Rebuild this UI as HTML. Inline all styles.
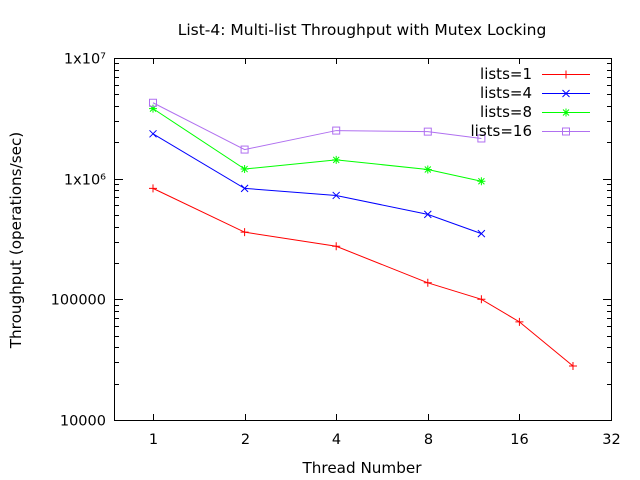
<!DOCTYPE html>
<html><head><meta charset="utf-8"><style>
body{margin:0;background:#fff;}
svg{display:block;font-family:"DejaVu Sans","Liberation Sans",sans-serif;}
</style></head><body>
<svg id="chart" width="640" height="480" viewBox="0 0 640 480">
<text x="362" y="35" font-size="15.5" text-anchor="middle" fill="#000">List-4: Multi-list Throughput with Mutex Locking</text>
<rect x="114.5" y="58.5" width="497" height="362" fill="none" stroke="#000" stroke-width="1"/>
<g id="axes"></g>
<g id="series"></g>
<g id="legend"></g>
<text x="362" y="473" font-size="15.2" text-anchor="middle">Thread Number</text>
<text x="21" y="240" font-size="15.2" text-anchor="middle" transform="rotate(-90 21 240)">Throughput (operations/sec)</text>
</svg>
<script>
const xTicks = [1, 2, 4, 8, 16, 32];
const yTicks = [10000, 100000, 1000000, 10000000];
const yTickLabels = ["10000", "100000", "1x10\u2076", "1x10\u2077"];
const seriesNames = ["lists=1", "lists=4", "lists=8", "lists=16"];
const threads1 = [1, 2, 4, 8, 12, 16, 24];
const values1 = [830000, 360000, 275000, 137000, 100000, 65000, 28000];
const threads4 = [1, 2, 4, 8, 12];
const values4 = [2350000, 830000, 725000, 505000, 350000];
const threads8 = [1, 2, 4, 8, 12];
const values8 = [3800000, 1200000, 1430000, 1190000, 950000];
const threads16 = [1, 2, 4, 8, 12];
const values16 = [4250000, 1740000, 2500000, 2450000, 2150000];

const NS = "http://www.w3.org/2000/svg";
const X0 = 153, XS = 91.6, Y0 = 420, YS = 120.7;
function xs(v){ return X0 + Math.log2(v) * XS; }
function ys(v){ return Y0 - (Math.log10(v) - 4) * YS; }
function mk(tag, attrs, parent){ const e = document.createElementNS(NS, tag); for (const k in attrs) e.setAttribute(k, attrs[k]); parent.appendChild(e); return e; }

const axes = document.getElementById("axes");
xTicks.forEach(t => {
  const x = Math.round(xs(t)) + 0.5;
  const tk = mk("path", {d:`M${x} 420 v-6 M${x} 58 v6`, stroke:"#000"}, axes);
  
  
  const lb = mk("text", {x:x, y:444, "font-size":14.5, "text-anchor":"middle"}, axes);
  lb.textContent = t;
  
  
});
yTicks.forEach((t, i) => {
  const y = Math.round(ys(t)) + 0.5;
  const tk = mk("path", {d:`M114 ${y} h9 M612 ${y} h-9`, stroke:"#000"}, axes);
  
  
  if (i < yTicks.length - 1) {
    for (let m = 2; m <= 9; m++) {
      const ym = Math.round(ys(t * m)) + 0.5;
      const mt = mk("path", {d:`M114 ${ym} h5 M612 ${ym} h-5`, stroke:"#000"}, axes);
      
      
    }
  }
  const lb = mk("text", {x:106, y:y + 5, "font-size":14.5, "text-anchor":"end"}, axes);
  lb.textContent = yTickLabels[i];
  
  
});

const colors = ["#ff0000", "#0000ff", "#00ff00", "#b070f0"];
const allX = [threads1, threads4, threads8, threads16];
const allY = [values1, values4, values8, values16];
function marker(i, x, y, g){
  let d;
  if (i === 0) d = `M${x-4} ${y}h8M${x} ${y-4}v8`;
  else if (i === 1) d = `M${x-3.5} ${y-3.5}l7 7M${x-3.5} ${y+3.5}l7 -7`;
  else if (i === 2) d = `M${x-4} ${y}h8M${x} ${y-4}v8M${x-3} ${y-3}l6 6M${x-3} ${y+3}l6 -6`;
  else return mk("rect", {x:x-3.5, y:y-3.5, width:7, height:7, fill:"none", stroke:colors[i]}, g);
  return mk("path", {d:d, stroke:colors[i], fill:"none"}, g);
}
const sg = document.getElementById("series");
allX.forEach((xa, i) => {
  const g = mk("g", {}, sg);
  
  
  const pts = xa.map((t, j) => [xs(t), ys(allY[i][j])]);
  const line = mk("polyline", {points: pts.map(p => p.join(",")).join(" "), fill:"none", stroke:colors[i]}, g);
  
  
  pts.forEach(p => {
    const m = marker(i, p[0], p[1], g);
    
    
  });
});

const lg = document.getElementById("legend");
seriesNames.forEach((n, i) => {
  const y = 74 + i * 19;
  const g = mk("g", {}, lg);
  
  
  const t = mk("text", {x:532, y:y + 5, "font-size":15, "text-anchor":"end"}, g);
  t.textContent = n;
  mk("line", {x1:542, x2:590, y1:y + 0.5, y2:y + 0.5, stroke:colors[i]}, g);
  marker(i, 566, y + 0.5, g);
});
</script>
</body></html>
